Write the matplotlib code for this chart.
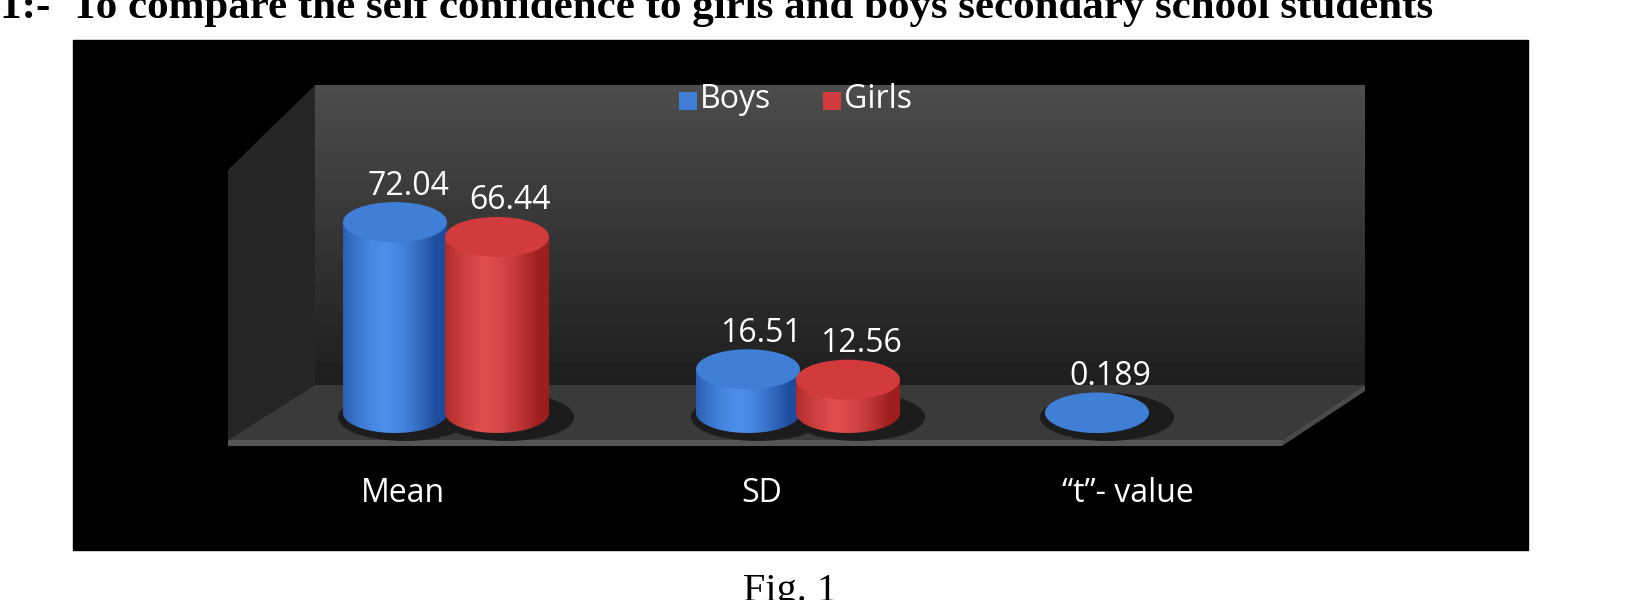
import numpy as np
import matplotlib.pyplot as plt
from matplotlib.patches import Polygon, Ellipse, Rectangle
from matplotlib.path import Path
from matplotlib.patches import PathPatch

categories = ["Mean", "SD", "\u201ct\u201d- value"]
boys = [72.04, 16.51, 0.189]
girls = [66.44, 12.56, None]
series_names = ["Boys", "Girls"]

W, H = 1632, 600
fig = plt.figure(figsize=(W / 100, H / 100), dpi=100)
ax = fig.add_axes([0, 0, 1, 1])
ax.set_xlim(0, W)
ax.set_ylim(H, 0)
ax.axis("off")

font = "Open Sans"

# title and caption (cropped by the page edges, as in the source)
ax.text(0, 8, "1:-  To compare the self confidence to girls and boys secondary school students",
        family="Liberation Serif", weight="bold", fontsize=31, va="center", ha="left")
ax.text(790, 592, "Fig. 1", family="Liberation Serif", fontsize=29, va="center", ha="center")

# black chart area
ax.add_patch(Rectangle((73, 40), 1455, 510, color="black", zorder=0))

# 3D box: back wall gradient, side wall, floor
grad = np.linspace(0.30, 0.12, 100).reshape(-1, 1)
ax.imshow(grad, cmap="gray", vmin=0, vmax=1, extent=(315, 1365, 385, 85), aspect="auto", zorder=1)
ax.add_patch(Polygon([(228, 170), (315, 85), (315, 385), (228, 440)], closed=True,
                     fc="#262626", ec="none", zorder=1))
ax.add_patch(Polygon([(228, 440), (315, 385), (1365, 385), (1282, 440)], closed=True,
                     fc="#3a3a3a", ec="none", zorder=1))
ax.add_patch(Polygon([(228, 440), (1282, 440), (1282, 446), (228, 446)], closed=True,
                     fc="#555555", ec="none", zorder=1))
ax.add_patch(Polygon([(1282, 440), (1365, 385), (1365, 391), (1282, 446)], closed=True,
                     fc="#4a4a4a", ec="none", zorder=1))

base_y = 413
scale = 2.65
rx, ry = 52, 20
centers = [(395, 497), (748, 848), (1097, None)]


def cylinder(cx, value, dark, light, topc):
    h = value * scale
    top = base_y - h
    ax.add_patch(Ellipse((cx + 10, base_y + 4), 2 * rx + 30, 2 * ry + 8, fc="#1c1c1c", ec="none", zorder=2))
    verts = [(cx - rx, top), (cx - rx, base_y)]
    t = np.linspace(np.pi, 0, 40)
    verts += [(cx + rx * np.cos(a), base_y + ry * np.sin(a)) for a in t]
    verts += [(cx + rx, top), (cx - rx, top)]
    clip = PathPatch(Path(verts), fc="none", ec="none")
    ax.add_patch(clip)
    x = np.linspace(-1, 1, 120)
    shade = 1 - np.abs(x + 0.2) ** 1.5
    cols = np.array(dark)[None, :] + (np.array(light) - np.array(dark))[None, :] * np.clip(shade, 0, 1)[:, None]
    g = ax.imshow(cols[None, :, :], extent=(cx - rx, cx + rx, base_y + ry, top), aspect="auto", zorder=3)
    g.set_clip_path(clip)
    ax.add_patch(Ellipse((cx, top), 2 * rx, 2 * ry, fc=topc, ec="none", zorder=4))
    return top


blue = ((0.12, 0.30, 0.62), (0.30, 0.56, 0.92), "#3f7fd6")
red = ((0.62, 0.12, 0.12), (0.88, 0.30, 0.30), "#d23b3b")
for i, cat in enumerate(categories):
    bx, gx = centers[i]
    top = cylinder(bx, boys[i], *blue)
    ax.text(bx + 13, top - 36, f"{boys[i]:g}" if i == 2 else f"{boys[i]:.2f}", color="white",
            family=font, fontsize=23, ha="center", va="center", zorder=5)
    if girls[i] is not None:
        top = cylinder(gx, girls[i], *red)
        ax.text(gx + 13, top - 36, f"{girls[i]:.2f}", color="white",
                family=font, fontsize=23, ha="center", va="center", zorder=5)
    ax.text([403, 762, 1128][i], 493, cat, color="white", family=font, fontsize=23,
            ha="center", va="center", zorder=5)

# legend
for sx, name, c in [(688, series_names[0], "#3f7fd6"), (832, series_names[1], "#d23b3b")]:
    ax.add_patch(Rectangle((sx - 9, 92), 18, 18, fc=c, ec="none", zorder=5))
    ax.text(sx + 12, 100, name, color="white", family=font, fontsize=23, ha="left", va="center", zorder=5)

fig.savefig("out.png", dpi=100, facecolor="white")
